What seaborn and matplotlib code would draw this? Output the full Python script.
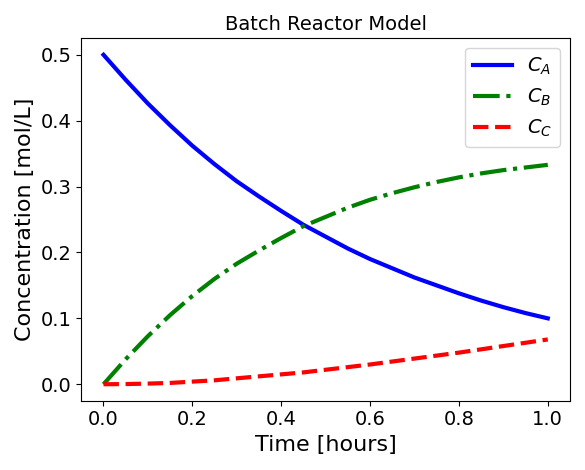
import numpy as np
import pandas as pd
import seaborn as sns
import matplotlib
matplotlib.use("Agg")
import matplotlib.pyplot as plt

time = [0.0, 0.05, 0.1, 0.15, 0.2, 0.25, 0.3, 0.35, 0.4, 0.45, 0.5,
        0.55, 0.6, 0.65, 0.7, 0.75, 0.8, 0.85, 0.9, 0.95, 1.0]
conc_a = [0.5, 0.462, 0.426, 0.393, 0.362, 0.334, 0.308, 0.285, 0.263, 0.242, 0.224,
          0.206, 0.190, 0.176, 0.162, 0.150, 0.138, 0.127, 0.117, 0.108, 0.100]
conc_b = [0.0, 0.038, 0.073, 0.105, 0.134, 0.160, 0.183, 0.203, 0.222, 0.240, 0.254,
          0.268, 0.280, 0.290, 0.299, 0.307, 0.314, 0.320, 0.325, 0.329, 0.333]
conc_c = [0.0, 0.0003, 0.001, 0.002, 0.004, 0.006, 0.009, 0.012, 0.015, 0.018, 0.022,
          0.026, 0.030, 0.0345, 0.039, 0.0435, 0.048, 0.053, 0.058, 0.063, 0.068]

df = pd.DataFrame({"t": time, "A": conc_a, "B": conc_b, "C": conc_c})

fig, ax = plt.subplots(figsize=(5.85, 4.7), dpi=100)
sns.lineplot(data=df, x="t", y="A", ax=ax, color="blue", lw=3, label="$C_A$")
sns.lineplot(data=df, x="t", y="B", ax=ax, color="green", lw=3, linestyle="-.", label="$C_B$")
sns.lineplot(data=df, x="t", y="C", ax=ax, color="red", lw=3, linestyle="--", label="$C_C$")

ax.set_title("Batch Reactor Model", fontsize=14)
ax.set_xlabel("Time [hours]", fontsize=16)
ax.set_ylabel("Concentration [mol/L]", fontsize=16)
ax.tick_params(labelsize=14)
ax.legend(fontsize=14, loc="upper right")
fig.tight_layout()
fig.savefig("out.png")
